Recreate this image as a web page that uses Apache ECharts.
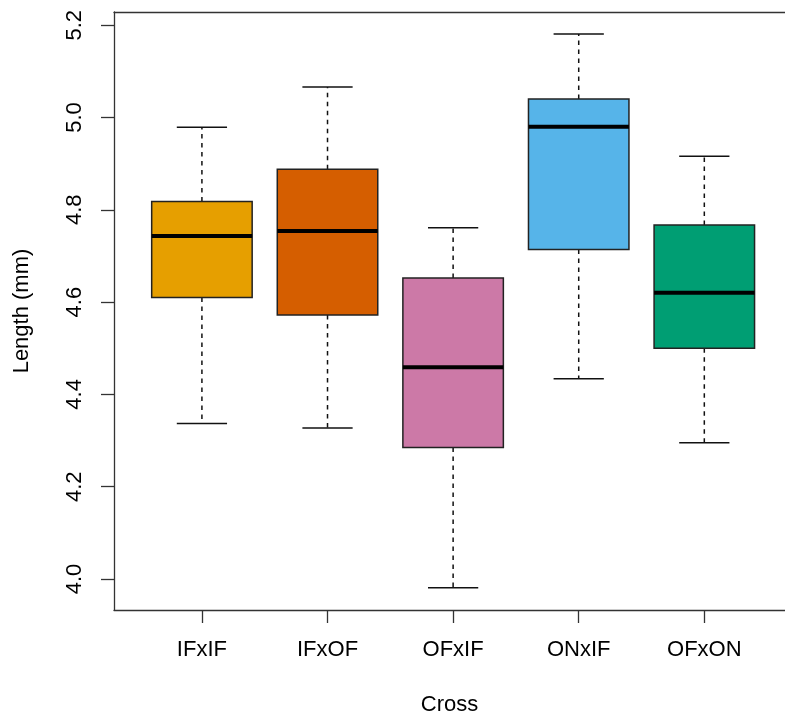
<!DOCTYPE html>
<html>
<head>
<meta charset="utf-8">
<script src="https://cdn.jsdelivr.net/npm/echarts@6/dist/echarts.min.js"></script>
<style>html,body{margin:0;padding:0;background:#fff}#c{width:785px;height:722px}</style>
</head>
<body>
<div id="c"></div>
<script>
const categories = ['IFxIF', 'IFxOF', 'OFxIF', 'ONxIF', 'OFxON'];
const lowerWhisker = [4.337, 4.327, 3.981, 4.434, 4.295];
const q1Values     = [4.610, 4.572, 4.285, 4.714, 4.500];
const medianValues = [4.743, 4.754, 4.459, 4.980, 4.620];
const q3Values     = [4.818, 4.888, 4.652, 5.040, 4.767];
const upperWhisker = [4.979, 5.066, 4.761, 5.181, 4.916];
const boxColors = ['#E69F00', '#D55E00', '#CC79A7', '#56B4E9', '#009E73'];
const yTicks = [4.0, 4.2, 4.4, 4.6, 4.8, 5.0, 5.2];
const xTicks = [1, 2, 3, 4, 5];

const FONT = '"Liberation Sans", Arial, Helvetica, sans-serif';
const data = categories.map((c, i) => ({
  value: [i + 1, lowerWhisker[i], q1Values[i], medianValues[i], q3Values[i], upperWhisker[i]],
  itemStyle: { color: boxColors[i] }
}));

function renderItem(params, api) {
  const x = api.value(0);
  const pLow = api.coord([x, api.value(1)]);
  const pQ1 = api.coord([x, api.value(2)]);
  const pMed = api.coord([x, api.value(3)]);
  const pQ3 = api.coord([x, api.value(4)]);
  const pHigh = api.coord([x, api.value(5)]);
  const left = api.coord([x - 0.4, 0])[0];
  const right = api.coord([x + 0.4, 0])[0];
  const cl = api.coord([x - 0.2, 0])[0];
  const cr = api.coord([x + 0.2, 0])[0];
  const cx = pMed[0];
  const color = boxColors[params.dataIndex];
  const lineStyle = { stroke: '#111', lineWidth: 1.5 };
  const dash = { stroke: '#111', lineWidth: 1.5, lineDash: [4.5, 4.5] };
  return {
    type: 'group',
    children: [
      { type: 'line', shape: { x1: cx, y1: pQ3[1], x2: cx, y2: pHigh[1] }, style: dash },
      { type: 'line', shape: { x1: cx, y1: pQ1[1], x2: cx, y2: pLow[1] }, style: dash },
      { type: 'line', shape: { x1: cl, y1: pHigh[1], x2: cr, y2: pHigh[1] }, style: lineStyle },
      { type: 'line', shape: { x1: cl, y1: pLow[1], x2: cr, y2: pLow[1] }, style: lineStyle },
      { type: 'rect', shape: { x: left, y: pQ3[1], width: right - left, height: pQ1[1] - pQ3[1] },
        style: { fill: color, stroke: '#222', lineWidth: 1.5 } },
      { type: 'line', shape: { x1: left, y1: pMed[1], x2: right, y2: pMed[1] }, style: { stroke: '#000', lineWidth: 4 } }
    ]
  };
}

const chart = echarts.init(document.getElementById('c'), null, { renderer: 'canvas' });
chart.setOption({
  animation: false,
  backgroundColor: '#fff',
  grid: { left: 114, top: 12, right: 0, height: 598, show: false },
  xAxis: [{
    type: 'value', min: 0.3, max: 5.6424,
    name: 'Cross', nameLocation: 'middle', nameGap: 84,
    nameTextStyle: { fontFamily: FONT, fontSize: 22, color: '#000' },
    axisLine: { show: true, onZero: false, lineStyle: { color: '#333', width: 1.3 } },
    axisTick: { show: true, length: 13, customValues: xTicks, lineStyle: { color: '#333', width: 1.3 } },
    axisLabel: { customValues: xTicks, margin: 29, fontFamily: FONT, fontSize: 22, color: '#000',
      formatter: v => categories[Math.round(v) - 1] || '' },
    splitLine: { show: false }
  }, {
    type: 'value', position: 'top', min: 0.3, max: 5.6424,
    axisLine: { show: true, onZero: false, lineStyle: { color: '#333', width: 1.3 } },
    axisTick: { show: false }, axisLabel: { show: false }, splitLine: { show: false }
  }],
  yAxis: {
    type: 'value', min: 3.9328, max: 5.2286,
    name: 'Length (mm)', nameLocation: 'middle', nameGap: 81,
    nameTextStyle: { fontFamily: FONT, fontSize: 22, color: '#000' },
    axisLine: { show: true, onZero: false, lineStyle: { color: '#333', width: 1.3 } },
    axisTick: { show: true, length: 13, customValues: yTicks, lineStyle: { color: '#333', width: 1.3 } },
    axisLabel: { customValues: yTicks, rotate: 90, margin: 28, fontFamily: FONT, fontSize: 22, color: '#000',
      formatter: v => v.toFixed(1) },
    splitLine: { show: false }
  },
  series: [{
    type: 'custom',
    renderItem: renderItem,
    encode: { x: 0, y: [1, 2, 3, 4, 5] },
    data: data
  }]
});
</script>
</body>
</html>
